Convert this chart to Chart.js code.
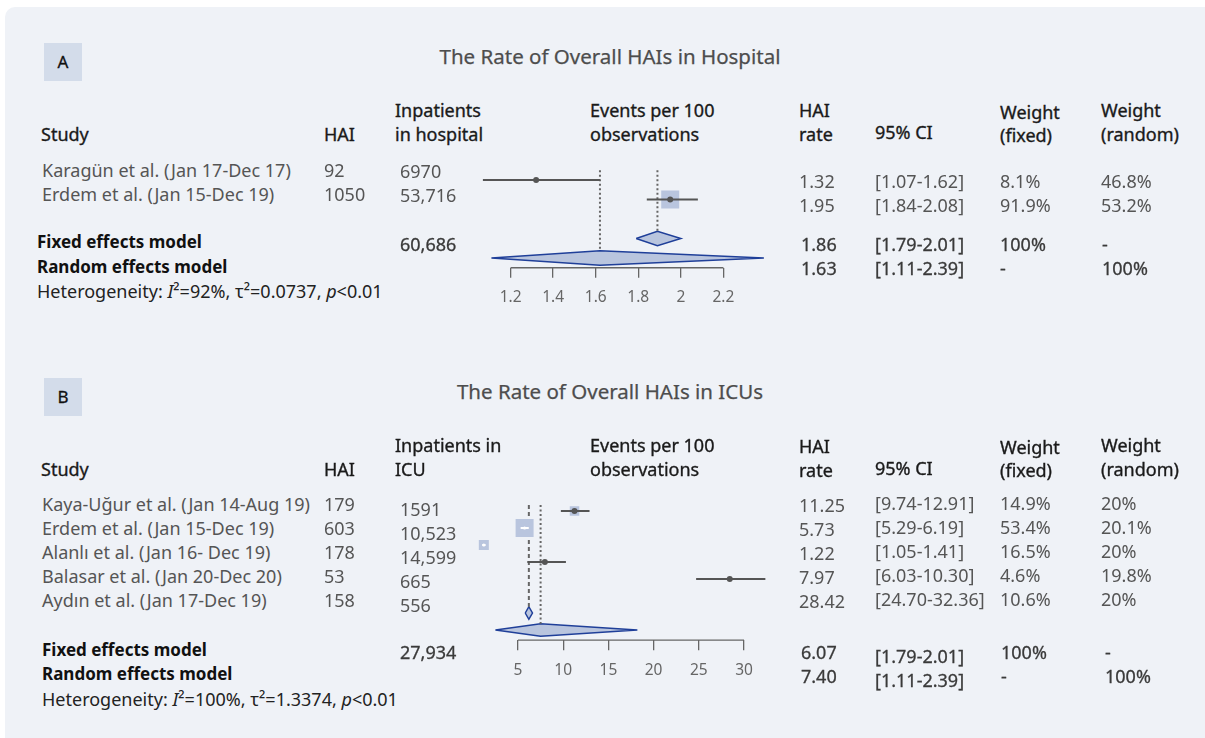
<!DOCTYPE html>
<html>
<head>
<meta charset="utf-8">
<script src="https://cdn.jsdelivr.net/npm/chart.js@4.4.1/dist/chart.umd.min.js"></script>
<style>
  body { margin: 0; background: #fff; width: 1205px; height: 738px; overflow: hidden; font-family: "Noto Sans", sans-serif; }
  #panel { position: absolute; left: 5px; top: 7px; width: 1200px; height: 740px; background: #eff2f7; border-radius: 10px 0 0 0; }
  canvas { position: absolute; }
  .t { position: absolute; white-space: nowrap; line-height: 22px; height: 22px; }
  .hd { font-size: 18px; color: #1a1a1a; -webkit-text-stroke: 0.35px #1a1a1a; }
  .bd { font-size: 18px; color: #555; }
  .md { font-size: 17px; font-weight: 700; color: #111; }
  .mv { font-size: 18px; color: #3a3a3a; -webkit-text-stroke: 0.3px #3a3a3a; }
  .ht { font-size: 18px; color: #222; }
  .ti { font-size: 20.5px; color: #4d4d4d; -webkit-text-stroke: 0.25px #4d4d4d; width: 500px; text-align: center; }
  .lb { position: absolute; width: 38px; height: 38px; background: #d3dcea; font-size: 17px; color: #111; -webkit-text-stroke: 0.3px #111; text-align: center; line-height: 38px; }
</style>
</head>
<body>
<div id="panel"></div>
<canvas id="chartA" width="360" height="170" style="left:440px;top:150px"></canvas>
<canvas id="chartB" width="360" height="210" style="left:440px;top:475px"></canvas>
<script>
// ---- A: overall HAIs in hospital ----
const hospStudies = ["Karagün et al. (Jan 17-Dec 17)", "Erdem et al. (Jan 15-Dec 19)"];
const hospHai = ["92", "1050"];
const hospInpatients = ["6970", "53,716"];
const hospRate = [1.32, 1.95];
const hospLower = [1.07, 1.84];
const hospUpper = [1.62, 2.08];
const hospWeightFixed = [8.1, 91.9];
const hospWeightRandom = [46.8, 53.2];
const hospTotal = "60,686";
const hospModelRate = ["1.86", "1.63"];
const hospModelCI = ["[1.79-2.01]", "[1.11-2.39]"];
const hospHetero = ["92%", "0.0737", "0.01"];
// fixed / random diamonds as drawn
const hospDiamondEst = [1.89, 1.62];
const hospDiamondLow = [1.79, 1.11];
const hospDiamondHigh = [2.00, 2.39];
const hospTicks = [1.2, 1.4, 1.6, 1.8, 2, 2.2];

// ---- B: overall HAIs in ICUs ----
const icuStudies = ["Kaya-Uğur et al. (Jan 14-Aug 19)", "Erdem et al. (Jan 15-Dec 19)", "Alanlı et al. (Jan 16- Dec 19)", "Balasar et al. (Jan 20-Dec 20)", "Aydın et al. (Jan 17-Dec 19)"];
const icuHai = ["179", "603", "178", "53", "158"];
const icuInpatients = ["1591", "10,523", "14,599", "665", "556"];
const icuRate = [11.25, 5.73, 1.22, 7.97, 28.42];
const icuLower = [9.74, 5.29, 1.05, 6.03, 24.70];
const icuUpper = [12.91, 6.19, 1.41, 10.30, 32.36];
const icuWeightFixed = [14.9, 53.4, 16.5, 4.6, 10.6];
const icuWeightRandom = [20, 20.1, 20, 19.8, 20];
const icuTotal = "27,934";
const icuModelRate = ["6.07", "7.40"];
const icuModelCI = ["[1.79-2.01]", "[1.11-2.39]"];
const icuHetero = ["100%", "1.3374", "0.01"];
const icuDiamondEst = [6.2, 7.5];
const icuDiamondLow = [5.8, 2.5];
const icuDiamondHigh = [6.6, 18.2];
const icuTicks = [5, 10, 15, 20, 25, 30];

function txt(x, y, s, cls) {
  const d = document.createElement("div");
  d.className = "t " + cls;
  d.style.left = x + "px";
  d.style.top = (y - 11) + "px";
  d.innerHTML = s;
  document.body.appendChild(d);
}

function label(x, y, s) {
  const d = document.createElement("div");
  d.className = "lb";
  d.style.left = x + "px";
  d.style.top = y + "px";
  d.textContent = s;
  document.body.appendChild(d);
}

// ---- table text ----
label(44, 43, "A");
txt(360, 56, "The Rate of Overall HAIs in Hospital", "ti");
txt(41, 134, "Study", "hd");
txt(324, 134, "HAI", "hd");
txt(395, 110, "Inpatients", "hd");
txt(395, 134, "in hospital", "hd");
txt(590, 110, "Events per 100", "hd");
txt(590, 134, "observations", "hd");
txt(799, 110, "HAI", "hd");
txt(799, 134, "rate", "hd");
txt(875, 132, "95% CI", "hd");
txt(1000, 112, "Weight", "hd");
txt(1000, 135, "(fixed)", "hd");
txt(1101, 110, "Weight", "hd");
txt(1101, 134, "(random)", "hd");
hospStudies.forEach((s, i) => {
  const y = 170 + i * 24;
  txt(42, y, s, "bd");
  txt(324, y, hospHai[i], "bd");
  txt(400, y + 1, hospInpatients[i], "bd");
  txt(799, y + 11, hospRate[i].toFixed(2), "bd");
  txt(875, y + 11, "[" + hospLower[i].toFixed(2) + "-" + hospUpper[i].toFixed(2) + "]", "bd");
  txt(1000, y + 11, hospWeightFixed[i] + "%", "bd");
  txt(1101, y + 11, hospWeightRandom[i] + "%", "bd");
});
txt(37, 242, "Fixed effects model", "md");
txt(37, 267, "Random effects model", "md");
txt(37, 291, "Heterogeneity: <i>I</i>²=" + hospHetero[0] + ", τ²=" + hospHetero[1] + ", <i>p</i>&lt;" + hospHetero[2], "ht");
txt(400, 244, hospTotal, "mv");
txt(801, 244, hospModelRate[0], "mv");
txt(801, 268, hospModelRate[1], "mv");
txt(875, 244, hospModelCI[0], "mv");
txt(875, 268, hospModelCI[1], "mv");
txt(1000, 244, "100%", "mv");
txt(1000, 268, "-", "mv");
txt(1102, 244, "-", "mv");
txt(1102, 268, "100%", "mv");

label(44, 378, "B");
txt(360, 391, "The Rate of Overall HAIs in ICUs", "ti");
txt(41, 469, "Study", "hd");
txt(324, 469, "HAI", "hd");
txt(395, 445, "Inpatients in", "hd");
txt(395, 469, "ICU", "hd");
txt(590, 445, "Events per 100", "hd");
txt(590, 469, "observations", "hd");
txt(799, 446, "HAI", "hd");
txt(799, 470, "rate", "hd");
txt(875, 468, "95% CI", "hd");
txt(1000, 447, "Weight", "hd");
txt(1000, 470, "(fixed)", "hd");
txt(1101, 445, "Weight", "hd");
txt(1101, 469, "(random)", "hd");
icuStudies.forEach((s, i) => {
  const y = 504 + i * 24;
  txt(42, y, s, "bd");
  txt(324, y, icuHai[i], "bd");
  txt(400, y + 5, icuInpatients[i], "bd");
  txt(799, y + 1, icuRate[i].toFixed(2), "bd");
  txt(875, y - 1, "[" + icuLower[i].toFixed(2) + "-" + icuUpper[i].toFixed(2) + "]", "bd");
  txt(1000, y - 1, icuWeightFixed[i] + "%", "bd");
  txt(1101, y - 1, icuWeightRandom[i] + "%", "bd");
});
txt(42, 650, "Fixed effects model", "md");
txt(42, 674, "Random effects model", "md");
txt(42, 699, "Heterogeneity: <i>I</i>²=" + icuHetero[0] + ", τ²=" + icuHetero[1] + ", <i>p</i>&lt;" + icuHetero[2], "ht");
txt(400, 652, icuTotal, "mv");
txt(801, 652, icuModelRate[0], "mv");
txt(801, 676, icuModelRate[1], "mv");
txt(875, 656, icuModelCI[0], "mv");
txt(875, 680, icuModelCI[1], "mv");
txt(1001, 652, "100%", "mv");
txt(1001, 676, "-", "mv");
txt(1105, 652, "-", "mv");
txt(1105, 676, "100%", "mv");

// ---- forest plots ----
const DIAMOND_H = 0.37;
const BOX_MAX = 18;

function forest(id, o) {
  const n = o.rate.length;
  const wMax = Math.max(...o.wFixed);
  const side = i => BOX_MAX * Math.sqrt(o.wFixed[i] / wMax);
  // CI drawn white when it fits inside its box
  const inside = (chart, i) => {
    const s = side(i);
    if (s < 9) return false;
    const x = chart.scales.x;
    return x.getPixelForValue(o.upper[i]) - x.getPixelForValue(o.lower[i]) < s;
  };
  const fixRow = n + 1, rndRow = n + 2;
  const datasets = [];

  datasets.push({
    data: o.rate.map((r, i) => ({ x: r, y: i })),
    showLine: false,
    pointBorderWidth: 0,
    pointRadius: ctx => inside(ctx.chart, ctx.dataIndex) ? 1.6 : 3,
    pointBackgroundColor: ctx => inside(ctx.chart, ctx.dataIndex) ? "#ffffff" : "#555555"
  });
  o.rate.forEach((r, i) => {
    datasets.push({
      data: [{ x: o.lower[i], y: i }, { x: o.upper[i], y: i }],
      borderColor: ctx => inside(ctx.chart, i) ? "#ffffff" : "#555555",
      borderWidth: 2,
      pointRadius: 0
    });
  });
  datasets.push({
    data: o.rate.map((r, i) => ({ x: r, y: i })),
    showLine: false,
    pointStyle: "rect",
    pointBorderWidth: 0,
    pointBackgroundColor: "#b9c5de",
    pointRadius: ctx => {
      const s = side(ctx.dataIndex);
      return s < 9 ? 0 : s / Math.SQRT2;
    }
  });
  // reference lines
  datasets.push({
    data: [{ x: o.dEst[0], y: o.lineTop }, { x: o.dEst[0], y: fixRow - DIAMOND_H }],
    borderColor: "#666", borderWidth: 2, borderDash: o.fixDash, pointRadius: 0
  });
  datasets.push({
    data: [{ x: o.dEst[1], y: o.lineTop }, { x: o.dEst[1], y: rndRow - DIAMOND_H }],
    borderColor: "#666", borderWidth: 2, borderDash: [2, 2.5], pointRadius: 0
  });
  // diamonds
  [fixRow, rndRow].forEach((row, k) => {
    datasets.push({
      data: [
        { x: o.dLow[k], y: row }, { x: o.dEst[k], y: row - DIAMOND_H },
        { x: o.dHigh[k], y: row }, { x: o.dEst[k], y: row + DIAMOND_H },
        { x: o.dLow[k], y: row }
      ],
      borderColor: "#1f3f99", borderWidth: 1.5, backgroundColor: "#b9c5de",
      fill: "shape", pointRadius: 0, tension: 0
    });
  });
  // axis line over the tick range
  datasets.push({
    data: [{ x: o.ticks[0], y: o.yMax }, { x: o.ticks[o.ticks.length - 1], y: o.yMax }],
    borderColor: "#666", borderWidth: 1.3, pointRadius: 0
  });
  datasets.forEach(d => { d.clip = false; });

  return new Chart(document.getElementById(id), {
    type: "line",
    data: { datasets },
    options: {
      responsive: false,
      animation: false,
      events: [],
      layout: { padding: o.padding },
      plugins: { legend: { display: false }, tooltip: { enabled: false } },
      scales: {
        x: {
          type: "linear",
          min: o.xMin,
          max: o.xMax,
          afterBuildTicks: s => { s.ticks = o.ticks.map(v => ({ value: v })); },
          afterFit: s => { s.height = 40; },
          border: { display: false },
          grid: { drawOnChartArea: false, drawTicks: true, tickLength: 10, color: "#666", lineWidth: 1.3 },
          ticks: { color: "#666", font: { family: "Noto Sans", size: 15.5 }, padding: 11, callback: v => String(v) }
        },
        y: { type: "linear", display: false, reverse: true, min: o.yMin, max: o.yMax }
      }
    }
  });
}

forest("chartA", {
  rate: hospRate, lower: hospLower, upper: hospUpper, wFixed: hospWeightFixed,
  dEst: hospDiamondEst, dLow: hospDiamondLow, dHigh: hospDiamondHigh,
  ticks: hospTicks, xMin: 1.0, xMax: 2.5, yMin: -0.6, yMax: 4.5, lineTop: -0.5,
  fixDash: [2, 2.5],
  padding: { left: 28, right: 9.5, top: 18.3, bottom: 12.25 }
});

forest("chartB", {
  rate: icuRate, lower: icuLower, upper: icuUpper, wFixed: icuWeightFixed,
  dEst: icuDiamondEst, dLow: icuDiamondLow, dHigh: icuDiamondHigh,
  ticks: icuTicks, xMin: 0, xMax: 34, yMin: -0.4, yMax: 7.6, lineTop: -0.35,
  fixDash: [4, 3],
  padding: { left: 32.8, right: 19.8, top: 29.2, bottom: 4.8 }
});
</script>
</body>
</html>
